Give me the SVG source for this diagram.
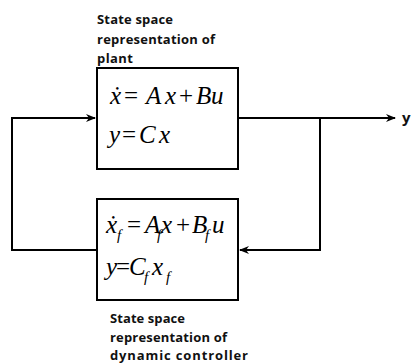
<svg xmlns="http://www.w3.org/2000/svg" width="416" height="363" viewBox="0 0 416 363">
<style>
.box{fill:#fff;stroke:#000;stroke-width:2}
.wire{fill:none;stroke:#000;stroke-width:2}
.lbl{font-family:"Open Sans","Liberation Sans",sans-serif;font-weight:700;font-size:13px;fill:#111}
.eq{font-family:"Liberation Serif","Times New Roman",serif;font-style:italic;font-size:25px;fill:#000}
.up{font-style:normal}
.sub{font-size:15px}
</style>
<defs>
<marker id="arr" viewBox="0 0 10 10" refX="9" refY="5" markerWidth="5" markerHeight="5" orient="auto" markerUnits="strokeWidth">
<path d="M0,1 L10,5 L0,9 L3,5 Z" fill="#000"/>
</marker>
</defs>
<rect width="416" height="363" fill="#fff"/>
<g id="connectors">
<path class="wire" d="M97,250 H12 V118 H95" marker-end="url(#arr)"/>
<path class="wire" d="M238,118 H395" marker-end="url(#arr)"/>
<path class="wire" d="M320,118 V250 H240" marker-end="url(#arr)"/>
</g>
<g id="plant">
<rect class="box" x="97" y="68" width="141" height="101"/>
<text class="eq"><tspan x="110" y="104">ẋ</tspan><tspan class="up" x="124" y="104">=</tspan><tspan x="146" y="104">A</tspan><tspan x="165" y="104">x</tspan><tspan class="up" x="179" y="104">+</tspan><tspan x="196" y="104">B</tspan><tspan x="211" y="104">u</tspan></text>
<text class="eq"><tspan x="109" y="143">y</tspan><tspan class="up" x="122" y="143">=</tspan><tspan x="139" y="143">C</tspan><tspan x="159" y="143">x</tspan></text>
<text class="lbl"><tspan x="97" y="24" textLength="76">State space</tspan><tspan x="97" y="44" textLength="118">representation of</tspan><tspan x="97" y="63" textLength="36">plant</tspan></text>
</g>
<g id="controller">
<rect class="box" x="97" y="199" width="141" height="101"/>
<text class="eq"><tspan x="106" y="233">ẋ</tspan><tspan class="sub" x="117" y="240">f</tspan><tspan class="up" x="127" y="233">=</tspan><tspan x="145" y="233">A</tspan><tspan class="sub" x="157" y="240">f</tspan><tspan x="161" y="233">x</tspan><tspan class="up" x="176" y="233">+</tspan><tspan x="192" y="233">B</tspan><tspan class="sub" x="205" y="240">f</tspan><tspan x="212" y="233">u</tspan></text>
<text class="eq"><tspan x="106" y="275">y</tspan><tspan class="up" x="116" y="275">=</tspan><tspan x="129" y="275">C</tspan><tspan class="sub" x="144" y="282">f</tspan><tspan x="152" y="275">x</tspan><tspan class="sub" x="166" y="282">f</tspan></text>
<text class="lbl"><tspan x="110" y="323" textLength="75">State space</tspan><tspan x="110" y="342" textLength="117">representation of</tspan><tspan x="110" y="360" textLength="138">dynamic controller</tspan></text>
</g>
<text class="lbl" x="402" y="123" style="font-size:15px">y</text>
</svg>
